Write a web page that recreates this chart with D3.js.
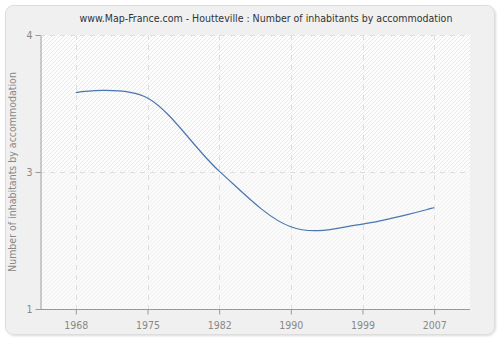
<!DOCTYPE html>
<html><head><meta charset="utf-8">
<script src="https://cdn.jsdelivr.net/npm/d3@7"></script>
<style>body{margin:0;background:#fff}svg{display:block}</style>
</head><body>
<svg id="c" width="500" height="340"></svg>
<script>
const titleText = "www.Map-France.com - Houtteville : Number of inhabitants by accommodation";
const yAxisLabel = "Number of inhabitants by accommodation";
const years = ["1968","1975","1982","1990","1999","2007"];
const values = [3.37, 3.31, 2.51, 1.90, 1.93, 2.11];
const yTickValues = [1, 2.5, 4];
const yTickLabels = ["1", "3", "4"];

const svg = d3.select("#c");
const W = 500, H = 340;
const m = {l: 40, r: 30, t: 35, b: 31};
const font = "'DejaVu Sans Condensed', 'DejaVu Sans', sans-serif";

const defs = svg.append("defs");
const f = defs.append("filter").attr("id","sh").attr("x","-5%").attr("y","-5%").attr("width","110%").attr("height","110%");
f.append("feDropShadow").attr("dx",1).attr("dy",1).attr("stdDeviation",1.2).attr("flood-color","#000").attr("flood-opacity",0.15);
const p1 = defs.append("pattern").attr("id","hatch1").attr("patternUnits","userSpaceOnUse").attr("width",4).attr("height",4);
p1.append("rect").attr("width",4).attr("height",4).attr("fill","#fdfdfd");
p1.append("path").attr("d","M-1,1 L1,-1 M0,4 L4,0 M3,5 L5,3").attr("stroke","#e9e9e9").attr("stroke-width",1);
const p2 = defs.append("pattern").attr("id","hatch2").attr("patternUnits","userSpaceOnUse").attr("width",4).attr("height",4);
p2.append("rect").attr("width",4).attr("height",4).attr("fill","#fafafa");
p2.append("path").attr("d","M-1,1 L1,-1 M0,4 L4,0 M3,5 L5,3").attr("stroke","#f2f2f2").attr("stroke-width",1);

svg.append("rect").attr("x",5.5).attr("y",5.5).attr("width",489).attr("height",329).attr("rx",8)
  .attr("fill","#f0f0f0").attr("stroke","#dcdcdc").attr("filter","url(#sh)");

const x = d3.scalePoint().domain(years).range([m.l, W - m.r]).padding(0.5);
const y = d3.scaleLinear().domain([1, 4]).range([H - m.b, m.t]);

svg.append("rect").attr("x",m.l).attr("y",m.t).attr("width",W-m.r-m.l).attr("height",y(2.5)-m.t).attr("fill","url(#hatch1)");
svg.append("rect").attr("x",m.l).attr("y",y(2.5)).attr("width",W-m.r-m.l).attr("height",y(1)-y(2.5)).attr("fill","url(#hatch2)");

// grid
svg.append("g").selectAll("line").data(years).join("line")
  .attr("x1", d => Math.round(x(d)) + 0.5).attr("x2", d => Math.round(x(d)) + 0.5)
  .attr("y1", m.t).attr("y2", H - m.b)
  .attr("stroke","#dedede").attr("stroke-dasharray","5,5");
svg.append("g").selectAll("line").data(yTickValues.slice(1)).join("line")
  .attr("x1", m.l).attr("x2", W - m.r)
  .attr("y1", d => Math.round(y(d)) + 0.5).attr("y2", d => Math.round(y(d)) + 0.5)
  .attr("stroke","#dedede").attr("stroke-dasharray","5,5");

// axes
const xAxis = svg.append("g").attr("transform",`translate(0,${H - m.b + 0.5})`)
  .call(d3.axisBottom(x).tickSize(5).tickSizeOuter(0));
const yAxis = svg.append("g").attr("transform",`translate(${m.l + 0.5},0)`)
  .call(d3.axisLeft(y).tickValues(yTickValues).tickFormat((d,i) => yTickLabels[i]).tickSize(5).tickSizeOuter(0));
xAxis.select(".domain").attr("d", `M${m.l},0H${W - m.r}`);
[xAxis, yAxis].forEach(a => {
  a.select(".domain").attr("stroke","#999");
  a.selectAll(".tick line").attr("stroke","#999");
  a.selectAll(".tick text").attr("fill","#888").attr("font-family",font).attr("font-size",10.5);
});
xAxis.selectAll(".tick text").attr("dy","1.1em");

// line
const line = d3.line().x((d,i) => x(years[i])).y(d => y(d)).curve(d3.curveCardinal.tension(0));
svg.append("path").datum(values).attr("d", line).attr("fill","none")
  .attr("stroke","#4a76ad").attr("stroke-width",1.2);

svg.append("text").attr("x", 266).attr("y", 22).attr("text-anchor","middle")
  .attr("font-family",font).attr("font-size",10.5).attr("fill","#333").text(titleText);
svg.append("text").attr("transform",`translate(16,${(m.t + H - m.b)/2}) rotate(-90)`)
  .attr("text-anchor","middle").attr("font-family",font).attr("font-size",10.5).attr("fill","#888").text(yAxisLabel);
</script>
</body></html>
